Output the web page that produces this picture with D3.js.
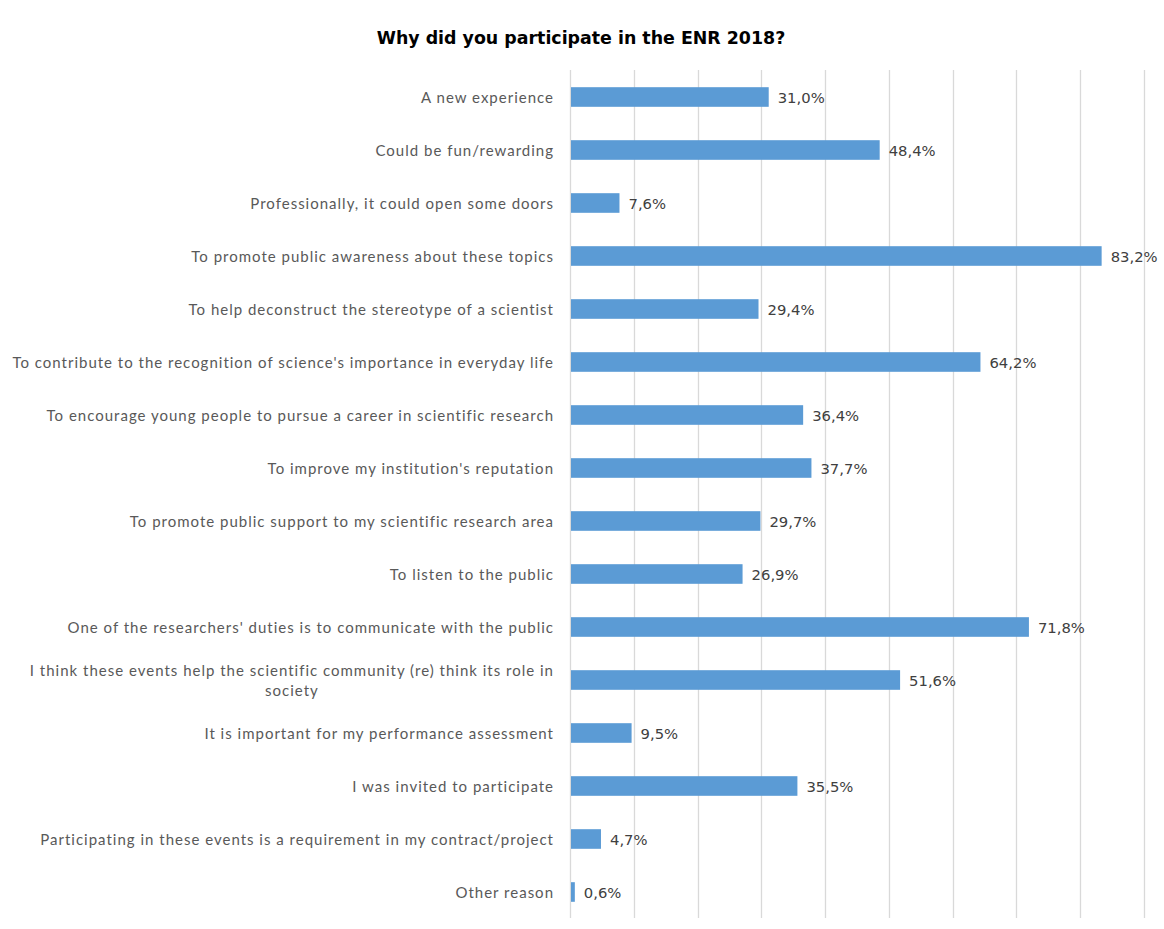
<!DOCTYPE html>
<html><head><meta charset="utf-8">
<script src="https://cdn.jsdelivr.net/npm/d3@7"></script>
<style>body{margin:0;background:#fff}</style>
</head><body>
<svg id="chart" width="1164" height="929"></svg>
<script>
const categories = [
  "A new experience",
  "Could be fun/rewarding",
  "Professionally, it could open some doors",
  "To promote public awareness about these topics",
  "To help deconstruct the stereotype of a scientist",
  "To contribute to the recognition of science's importance in everyday life",
  "To encourage young people to pursue a career in scientific research",
  "To improve my institution's reputation",
  "To promote public support to my scientific research area",
  "To listen to the public",
  "One of the researchers' duties is to communicate with the public",
  "I think these events help the scientific community (re) think its role in|society",
  "It is important for my performance assessment",
  "I was invited to participate",
  "Participating in these events is a requirement in my contract/project",
  "Other reason"
];
const values = [31.0, 48.4, 7.6, 83.2, 29.4, 64.2, 36.4, 37.7, 29.7, 26.9, 71.8, 51.6, 9.5, 35.5, 4.7, 0.6];
const gridTicks = [0, 10, 20, 30, 40, 50, 60, 70, 80, 90];
const title = "Why did you participate in the ENR 2018?";

const svg = d3.select("#chart");
const x = d3.scaleLinear().domain([0, 90]).range([570, 1144]);
const y = d3.scaleBand().domain(categories).range([70, 918]).paddingInner(0.63).paddingOuter(0.315);

svg.append("text").attr("x", 581).attr("y", 44).attr("text-anchor", "middle")
  .attr("font-family", "'DejaVu Sans', sans-serif").attr("font-weight", "bold")
  .attr("font-size", 17.4).attr("fill", "#000").text(title);

svg.append("g").selectAll("line").data(gridTicks).join("line")
  .attr("x1", d => Math.round(x(d)) + 0.5).attr("x2", d => Math.round(x(d)) + 0.5)
  .attr("y1", 70).attr("y2", 918)
  .attr("stroke", "#d9d9d9").attr("stroke-width", 1.3);

svg.append("g").selectAll("rect").data(values).join("rect")
  .attr("x", x(0) + 1).attr("y", (d, i) => y(categories[i]) + 0.5)
  .attr("width", d => x(d) - x(0)).attr("height", y.bandwidth())
  .attr("fill", "#5B9BD5");

svg.append("g").selectAll("text").data(values).join("text")
  .attr("x", d => x(d) + 10).attr("y", (d, i) => y(categories[i]) + y.bandwidth() / 2 + 6.5)
  .attr("font-family", "'DejaVu Sans', sans-serif").attr("font-size", 14.8)
  .attr("fill", "#404040")
  .text(d => d.toFixed(1).replace(".", ",") + "%");

const lab = svg.append("g").attr("font-family", "Lato, 'Open Sans', sans-serif")
  .attr("font-size", 15).attr("letter-spacing", 1).attr("fill", "#595959");
categories.forEach(c => {
  const cy = y(c) + y.bandwidth() / 2 + 1;
  const parts = c.split("|");
  if (parts.length === 1) {
    lab.append("text").attr("x", 554).attr("y", cy + 5).attr("text-anchor", "end").text(c);
  } else {
    const t1 = lab.append("text").attr("x", 554).attr("y", cy - 5).attr("text-anchor", "end").text(parts[0]);
    const w = t1.node().getComputedTextLength();
    lab.append("text").attr("x", 554 - w / 2).attr("y", cy + 15).attr("text-anchor", "middle").text(parts[1]);
  }
});
</script>
</body></html>
